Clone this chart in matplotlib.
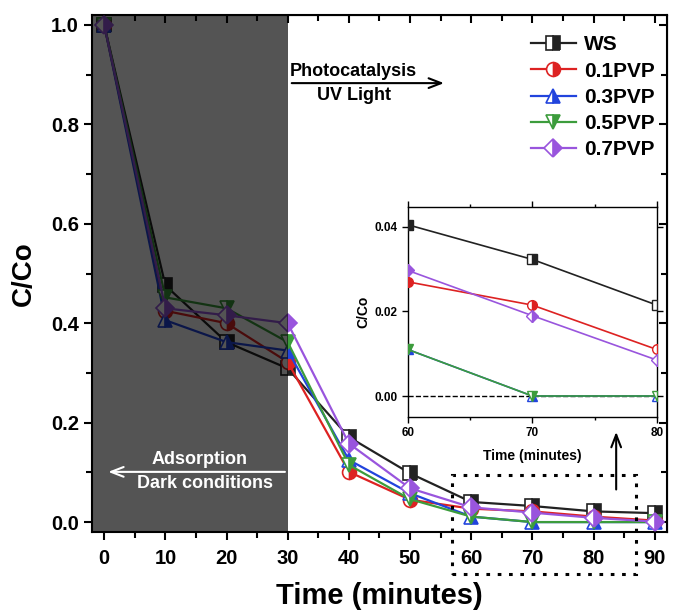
import matplotlib
matplotlib.use("Agg")
import matplotlib.pyplot as plt
from matplotlib.patches import Rectangle
from matplotlib.ticker import MultipleLocator

plt.rcParams["font.family"] = ["Liberation Sans", "DejaVu Sans"]
plt.rcParams["font.weight"] = "bold"

# degradation data
time = [0, 10, 20, 30, 40, 50, 60, 70, 80, 90]
ws = [1.0, 0.476, 0.362, 0.309, 0.171, 0.098, 0.0405, 0.0323, 0.0215, 0.018]
pvp01 = [1.0, 0.425, 0.400, 0.322, 0.101, 0.045, 0.027, 0.0215, 0.011, 0.003]
pvp03 = [1.0, 0.406, 0.362, 0.345, 0.125, 0.058, 0.011, 0.0, 0.0, 0.0]
pvp05 = [1.0, 0.452, 0.430, 0.362, 0.115, 0.046, 0.011, 0.0, 0.0, 0.0]
pvp07 = [1.0, 0.430, 0.416, 0.400, 0.158, 0.068, 0.0297, 0.019, 0.0085, 0.001]

labels = ["WS", "0.1PVP", "0.3PVP", "0.5PVP", "0.7PVP"]
colors = ["#222222", "#dd2222", "#2244dd", "#3c9c3c", "#9955dd"]
markers = ["s", "o", "^", "v", "D"]
series = [ws, pvp01, pvp03, pvp05, pvp07]

fig = plt.figure(figsize=(6.73, 6.13), dpi=100)
ax = fig.add_axes([0.1367, 0.1321, 0.8543, 0.8434])

for y, c, m, lab in zip(series, colors, markers, labels):
    ax.plot(time, y, color=c, lw=1.6, marker=m, ms=10 if m != "D" else 9,
            fillstyle="right", markerfacecoloralt="white", mec=c, mew=1.2,
            label=lab, zorder=3)

# dark (adsorption) region overlay
ax.add_patch(Rectangle((-2, -0.02), 32, 1.04, facecolor="black", alpha=0.67,
                       edgecolor="none", zorder=4))

ax.set_xlim(-2, 92)
ax.set_ylim(-0.02, 1.02)
ax.xaxis.set_major_locator(MultipleLocator(10))
ax.xaxis.set_minor_locator(MultipleLocator(5))
ax.yaxis.set_major_locator(MultipleLocator(0.2))
ax.yaxis.set_minor_locator(MultipleLocator(0.1))
ax.tick_params(which="both", direction="out", width=1.5, labelsize=14.5)
ax.tick_params(which="major", length=6)
ax.tick_params(which="minor", length=4)
ax.tick_params(axis="x", pad=6)
sec_x = ax.secondary_xaxis("top")
sec_x.xaxis.set_major_locator(MultipleLocator(10))
sec_x.xaxis.set_minor_locator(MultipleLocator(5))
sec_x.tick_params(which="both", direction="in", width=1.5, labeltop=False)
sec_x.tick_params(which="major", length=6)
sec_x.tick_params(which="minor", length=4)
sec_y = ax.secondary_yaxis("right")
sec_y.yaxis.set_major_locator(MultipleLocator(0.2))
sec_y.yaxis.set_minor_locator(MultipleLocator(0.1))
sec_y.tick_params(which="both", direction="in", width=1.5, labelright=False)
sec_y.tick_params(which="major", length=6)
sec_y.tick_params(which="minor", length=4)
for s in ax.spines.values():
    s.set_linewidth(1.5)
ax.set_xlabel("Time (minutes)", fontsize=21, fontweight="bold", labelpad=10)
ax.set_ylabel("C/Co", fontsize=20, fontweight="bold", labelpad=10)

leg = ax.legend(loc="upper right", bbox_to_anchor=(1.0, 0.985), frameon=False,
                fontsize=15, handlelength=2.2, handletextpad=0.35,
                labelspacing=0.35, borderaxespad=0.2)
for t in leg.get_texts():
    t.set_fontweight("bold")

# annotations
ax.annotate("", xy=(56, 0.883), xytext=(30.2, 0.883),
            arrowprops=dict(arrowstyle="->,head_length=0.9,head_width=0.35",
                            lw=1.5, color="black"), zorder=5)
ax.text(30.3, 0.889, "Photocatalysis", fontsize=13, fontweight="bold",
        ha="left", va="bottom")
ax.text(40.8, 0.876, "UV Light", fontsize=13, fontweight="bold",
        ha="center", va="top")
ax.annotate("", xy=(0.2, 0.101), xytext=(30, 0.101),
            arrowprops=dict(arrowstyle="->,head_length=0.9,head_width=0.35",
                            lw=1.5, color="white"), zorder=5)
ax.text(15.6, 0.108, "Adsorption", fontsize=13, fontweight="bold",
        color="white", ha="center", va="bottom", zorder=5)
ax.text(16.4, 0.094, "Dark conditions", fontsize=13, fontweight="bold",
        color="white", ha="center", va="top", zorder=5)

# zoom box and arrow to inset
ax.add_patch(Rectangle((56.8, -0.1045), 30.1, 0.199, fill=False, ls=(0, (1.2, 2.5)),
                       lw=2.2, edgecolor="black", clip_on=False, zorder=6))
ax.annotate("", xy=(83.7, 0.187), xytext=(83.7, 0.06),
            arrowprops=dict(arrowstyle="->,head_length=0.9,head_width=0.35",
                            lw=1.5, color="black"))

# inset
ins = fig.add_axes([0.606, 0.3202, 0.370, 0.3421])
for y, c, m in zip(series, colors, markers):
    ins.plot(time, y, color=c, lw=1.2, marker=m, ms=7 if m != "D" else 6.5,
             fillstyle="right", markerfacecoloralt="white", mec=c, mew=1.0,
             zorder=3, clip_on=True)
ins.axhline(0, color="black", ls="--", lw=1, zorder=2)
ins.set_xlim(60, 80)
ins.set_ylim(-0.0049, 0.0447)
ins.set_xticks([60, 70, 80])
ins.xaxis.set_minor_locator(MultipleLocator(5))
ins.set_yticks([0.0, 0.02, 0.04])
ins.set_yticklabels(["0.00", "0.02", "0.04"])
ins.tick_params(which="both", labelsize=8.5, width=1, top=True, right=True)
ins.tick_params(which="major", length=4, direction="out")
ins.tick_params(which="minor", length=2.5, direction="out")
for s in ins.spines.values():
    s.set_linewidth(1)
ins.set_xlabel("Time (minutes)", fontsize=10, fontweight="bold", labelpad=7)
ins.set_ylabel("C/Co", fontsize=10, fontweight="bold", labelpad=3)

fig.savefig("out.png", dpi=100)
